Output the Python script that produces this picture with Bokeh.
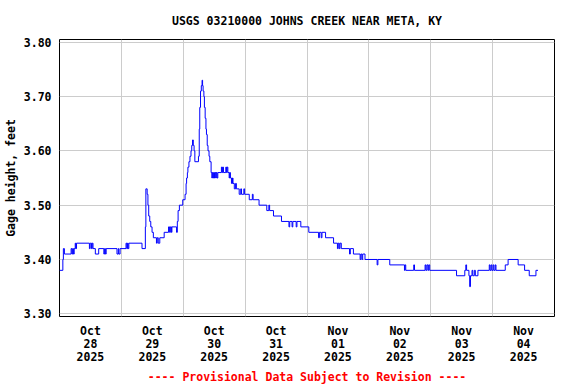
from bokeh.plotting import figure
from bokeh.models import FixedTicker, Title, Range1d
from bokeh.embed import file_html
from bokeh.resources import INLINE

# Hours since 2025-10-28 00:00 (change points of the 15-minute record) and gage height, feet
hours = [
    0.0, 1.3, 1.5, 1.9, 4.5, 4.8, 5.1, 5.4, 5.7, 6.1, 6.3, 6.6,
    11.6, 11.9, 12.4, 12.7, 13.0, 13.9, 15.2, 17.2, 17.5, 17.8, 18.1,
    22.3, 22.8, 23.0, 23.5, 25.8, 26.1, 26.4, 26.6, 26.9,
    32.0, 33.3, 33.5, 34.0, 34.3, 34.6, 35.0, 35.4, 35.9, 36.4,
    37.6, 37.9, 38.3, 38.9, 40.6, 42.3, 42.7, 43.0, 43.4, 43.6,
    45.4, 45.7, 46.0, 46.5, 47.8, 48.7, 49.1, 49.3, 49.6, 49.8,
    50.2, 50.6, 51.0, 51.3, 51.6, 51.9, 52.2, 52.5, 53.9, 54.2,
    54.4, 54.7, 55.0, 55.3, 55.5, 55.7, 56.0, 56.2, 56.5, 56.8,
    57.0, 57.3, 57.6, 58.0, 58.3, 58.8, 59.1, 59.3, 59.6, 59.8,
    60.1, 60.3, 60.6, 60.8, 61.1, 61.4, 62.8, 63.1, 63.3, 63.6,
    64.5, 64.8, 65.0, 65.3, 65.8, 66.0, 66.3, 66.7, 67.1, 67.3,
    67.8, 68.3, 68.6, 69.7, 70.3, 70.6, 71.5, 71.8, 73.6, 74.8,
    75.1, 77.4, 80.4, 81.2, 81.5, 83.0, 86.1, 89.0, 89.3, 90.2,
    90.5, 91.8, 92.1, 93.6, 96.7, 100.5, 100.8, 101.5, 101.8, 103.2,
    106.3, 107.8, 108.1, 108.5, 108.8, 109.3, 112.5, 112.8, 114.0, 116.6,
    116.9, 117.3, 117.6, 118.5, 123.2, 123.5, 128.1, 133.8, 134.0, 134.3,
    137.4, 137.7, 141.8, 142.1, 142.5, 142.9, 143.2, 143.6, 154.0, 157.2,
    157.6, 157.9, 158.8, 159.1, 159.4, 160.0, 160.3, 160.9, 161.3, 162.3,
    166.7, 167.0, 167.4, 167.7, 168.2, 168.5, 169.0, 169.3, 172.9, 174.0,
    177.9, 180.4, 182.2, 184.8, 185.6,
]
gage_height = [
    3.38, 3.40, 3.42, 3.41, 3.42, 3.41, 3.42, 3.41, 3.42, 3.43, 3.42, 3.43,
    3.42, 3.43, 3.42, 3.43, 3.42, 3.41, 3.42, 3.41, 3.42, 3.41, 3.42,
    3.41, 3.42, 3.41, 3.42, 3.43, 3.42, 3.43, 3.42, 3.43,
    3.42, 3.46, 3.53, 3.52, 3.50, 3.48, 3.47, 3.46, 3.45, 3.44,
    3.43, 3.44, 3.43, 3.44, 3.45, 3.46, 3.45, 3.46, 3.45, 3.46,
    3.45, 3.47, 3.49, 3.50, 3.51, 3.52, 3.54, 3.55, 3.56, 3.57,
    3.58, 3.59, 3.60, 3.61, 3.62, 3.61, 3.60, 3.58, 3.59, 3.64,
    3.68, 3.71, 3.72, 3.73, 3.72, 3.71, 3.70, 3.68, 3.66, 3.64,
    3.63, 3.61, 3.60, 3.59, 3.58, 3.56, 3.55, 3.56, 3.55, 3.56,
    3.55, 3.56, 3.55, 3.56, 3.55, 3.56, 3.57, 3.56, 3.57, 3.56,
    3.57, 3.56, 3.57, 3.56, 3.55, 3.56, 3.55, 3.54, 3.55, 3.54,
    3.53, 3.54, 3.53, 3.52, 3.53, 3.52, 3.53, 3.52, 3.51, 3.52,
    3.51, 3.50, 3.49, 3.50, 3.49, 3.48, 3.47, 3.46, 3.47, 3.46,
    3.47, 3.46, 3.47, 3.46, 3.45, 3.44, 3.45, 3.44, 3.45, 3.44,
    3.43, 3.42, 3.43, 3.42, 3.43, 3.42, 3.41, 3.42, 3.41, 3.40,
    3.41, 3.40, 3.41, 3.40, 3.39, 3.40, 3.39, 3.38, 3.39, 3.38,
    3.39, 3.38, 3.39, 3.38, 3.39, 3.38, 3.39, 3.38, 3.37, 3.38,
    3.39, 3.38, 3.37, 3.35, 3.37, 3.38, 3.37, 3.38, 3.37, 3.38,
    3.39, 3.38, 3.39, 3.38, 3.39, 3.38, 3.39, 3.38, 3.39, 3.40,
    3.39, 3.38, 3.37, 3.38, 3.38,
]

x_ticks = [12, 36, 60, 84, 108, 132, 156, 180]
x_tick_labels = ["Oct\n28\n2025", "Oct\n29\n2025", "Oct\n30\n2025", "Oct\n31\n2025",
                 "Nov\n01\n2025", "Nov\n02\n2025", "Nov\n03\n2025", "Nov\n04\n2025"]
day_boundaries = [24, 48, 72, 96, 120, 144, 168]
y_ticks = [3.3, 3.4, 3.5, 3.6, 3.7, 3.8]
y_tick_labels = ["3.30", "3.40", "3.50", "3.60", "3.70", "3.80"]

FONT = "DejaVu Sans Mono"
FS = "11.5px"

p = figure(width=576, height=384, output_backend="svg", toolbar_location=None,
           x_range=Range1d(0, 192), y_range=Range1d(3.295, 3.805),
           min_border_left=58, min_border_right=22, min_border_top=39,
           min_border_bottom=68)
p.background_fill_color = "white"
p.border_fill_color = "white"
p.outline_line_color = "black"
p.outline_line_alpha = 1.0
p.outline_line_width = 1

p.title.text = "USGS 03210000 JOHNS CREEK NEAR META, KY"
p.title.align = "center"
p.title.text_font = FONT
p.title.text_font_size = FS
p.title.text_font_style = "bold"
p.title.text_color = "black"
p.title.standoff = 23

p.step(hours, gage_height, mode="after", line_color="#0000FF", line_width=1)

xa = p.xaxis[0]
xa.ticker = FixedTicker(ticks=x_ticks)
xa.major_label_overrides = dict(zip(x_ticks, x_tick_labels))
ya = p.yaxis[0]
ya.ticker = FixedTicker(ticks=y_ticks)
ya.major_label_overrides = dict(zip(y_ticks, y_tick_labels))
ya.axis_label = "Gage height, feet"
ya.axis_label_text_font = FONT
ya.axis_label_text_font_size = FS
ya.axis_label_text_font_style = "bold"
ya.axis_label_text_color = "black"
ya.axis_label_standoff = 3
for ax in (xa, ya):
    ax.axis_line_color = None
    ax.major_tick_line_color = None
    ax.minor_tick_line_color = None
    ax.major_tick_out = 0
    ax.major_tick_in = 0
    ax.major_label_text_font = FONT
    ax.major_label_text_font_size = FS
    ax.major_label_text_font_style = "bold"
    ax.major_label_text_color = "black"
xa.major_label_standoff = 7
xa.major_label_text_line_height = 0.95
ya.major_label_standoff = 8

p.xgrid[0].ticker = FixedTicker(ticks=day_boundaries)
p.ygrid[0].ticker = FixedTicker(ticks=y_ticks)
for g in (p.xgrid[0], p.ygrid[0]):
    g.grid_line_color = "#CCCCCC"
    g.grid_line_width = 1

footer = Title(text="---- Provisional Data Subject to Revision ----", align="center",
               text_color="#FF0000", text_font=FONT, text_font_size=FS,
               text_font_style="bold", standoff=1)
p.add_layout(footer, "below")

open("out.html", "w").write(file_html(p, INLINE))
